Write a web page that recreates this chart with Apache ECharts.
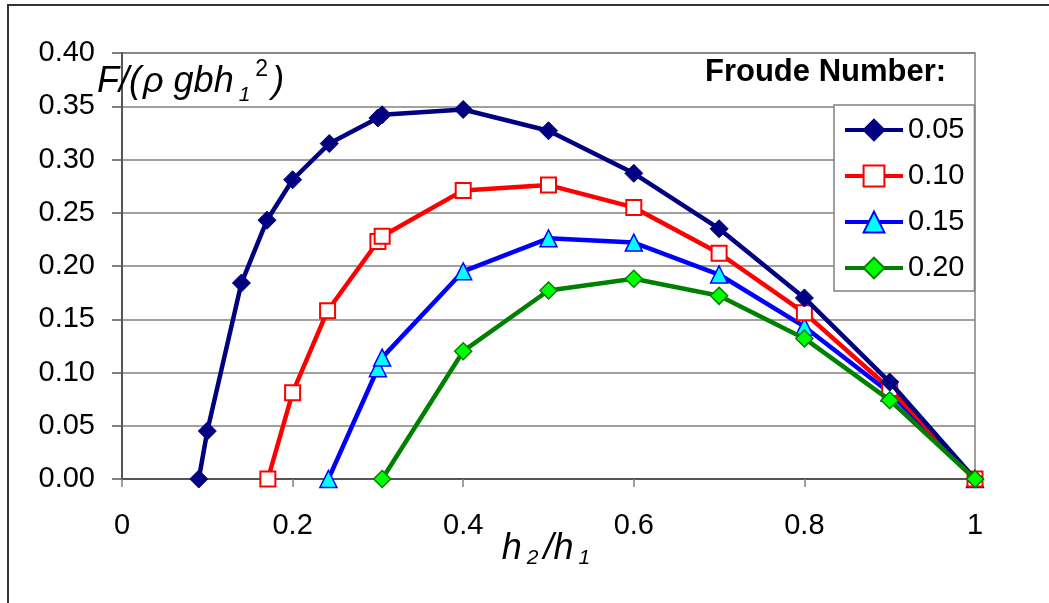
<!DOCTYPE html>
<html>
<head>
<meta charset="utf-8">
<script src="https://cdn.jsdelivr.net/npm/echarts@6/dist/echarts.min.js"></script>
<style>
  html, body { margin: 0; padding: 0; background: #fff; }
  #chart { width: 1049px; height: 603px; }
</style>
</head>
<body>
<div id="chart"></div>
<script>
  // Froude number series: h2/h1 vs F/(rho g b h1^2)
  var froudeNames = ['0.05', '0.10', '0.15', '0.20'];

  var f005X = [0.09, 0.1, 0.14, 0.17, 0.2, 0.243, 0.3, 0.305, 0.4, 0.5, 0.6, 0.7, 0.8, 0.9, 1.0];
  var f005Y = [0, 0.045, 0.184, 0.243, 0.281, 0.315, 0.339, 0.342, 0.347, 0.327, 0.287, 0.235, 0.170, 0.091, 0];

  var f010X = [0.171, 0.2, 0.241, 0.3, 0.305, 0.4, 0.5, 0.6, 0.7, 0.8, 0.9, 1.0];
  var f010Y = [0, 0.081, 0.158, 0.223, 0.228, 0.271, 0.276, 0.255, 0.212, 0.156, 0.085, 0];

  var f015X = [0.242, 0.3, 0.305, 0.4, 0.5, 0.6, 0.7, 0.8, 0.9, 1.0];
  var f015Y = [0, 0.104, 0.114, 0.195, 0.226, 0.222, 0.192, 0.143, 0.081, 0];

  var f020X = [0.305, 0.4, 0.5, 0.6, 0.7, 0.8, 0.9, 1.0];
  var f020Y = [0, 0.120, 0.177, 0.188, 0.172, 0.132, 0.074, 0];

  function pairs(xs, ys) {
    return xs.map(function (x, i) { return [x, ys[i]]; });
  }

  var FONT = '"Liberation Sans", Arial, sans-serif';

  var chart = echarts.init(document.getElementById('chart'));

  var option = {
    animation: false,
    backgroundColor: '#fff',
    textStyle: { fontFamily: FONT },
    grid: {
      left: 122, top: 53, width: 853, height: 426,
      show: true, borderColor: '#808080', borderWidth: 1.5, backgroundColor: 'transparent'
    },
    legend: {
      orient: 'vertical',
      left: 834, top: 105,
      padding: [10, 10, 8, 9],
      itemGap: 16,
      itemWidth: 58,
      itemHeight: 26,
      itemTextGap: 7,
      borderColor: '#808080',
      borderWidth: 1.5,
      backgroundColor: '#fff',
      lineStyle: { width: 4 },
      textStyle: { fontFamily: FONT, fontSize: 29, color: '#000', lineHeight: 30 },
      data: froudeNames
    },
    xAxis: {
      type: 'value',
      min: 0, max: 1, interval: 0.2,
      axisLine: { onZero: false, lineStyle: { color: '#555', width: 2 } },
      axisTick: { show: true, length: 8, lineStyle: { color: '#808080', width: 1.5 } },
      splitLine: { show: false },
      axisLabel: {
        margin: 32, color: '#000', fontSize: 29, fontFamily: FONT,
        formatter: function (v) { return String(+v.toFixed(1)); }
      },
      name: '{i|h}{s|2}{i|/h}{s|1}',
      nameLocation: 'middle',
      nameGap: 50,
      nameMoveOverlap: false,
      nameTextStyle: {
        rich: {
          i: { fontFamily: FONT, fontStyle: 'italic', fontSize: 36, color: '#000', lineHeight: 40 },
          s: { fontFamily: FONT, fontStyle: 'italic', fontSize: 21, color: '#000', lineHeight: 21,
               verticalAlign: 'bottom', padding: [0, 5, 0, 5] }
        }
      }
    },
    yAxis: {
      type: 'value',
      min: 0, max: 0.4, interval: 0.05,
      axisLine: { show: true, lineStyle: { color: '#555', width: 2 } },
      axisTick: { show: true, length: 10, lineStyle: { color: '#555', width: 1.5 } },
      splitLine: { show: true, lineStyle: { color: '#808080', width: 1.5 } },
      axisLabel: {
        margin: 27, color: '#000', fontSize: 29, fontFamily: FONT,
        formatter: function (v) { return v.toFixed(2); }
      }
    },
    graphic: [
      {
        // outer frame
        type: 'polyline',
        shape: { points: [[8, 603], [8, 5], [1049, 5]] },
        style: { stroke: '#333', lineWidth: 2, fill: null },
        silent: true
      },
      {
        type: 'text',
        left: 97, top: 58,
        z: 10,
        style: {
          text: '{i|F/(}{g|ρ}{i|gbh}{s|1}{p|2}{i|)}',
          rich: {
            i: { fontFamily: FONT, fontStyle: 'italic', fontSize: 36, fill: '#000', lineHeight: 48 },
            g: { fontFamily: FONT, fontStyle: 'italic', fontSize: 36, fill: '#000', lineHeight: 48, padding: [0, 10, 0, 2] },
            s: { fontFamily: FONT, fontStyle: 'italic', fontSize: 21, fill: '#000', lineHeight: 21,
                 verticalAlign: 'bottom', padding: [0, 3, 0, 5] },
            p: { fontFamily: FONT, fontSize: 23, fill: '#000', lineHeight: 23,
                 verticalAlign: 'top', padding: [0, 4, 0, 2] }
          }
        }
      },
      {
        type: 'text',
        left: 705, top: 57,
        z: 10,
        style: {
          text: 'Froude Number:',
          fontFamily: FONT, fontWeight: 'bold', fontSize: 31, fill: '#000'
        }
      }
    ],
    series: [
      {
        name: froudeNames[0],
        type: 'line',
        data: pairs(f005X, f005Y),
        symbol: 'diamond', symbolSize: 18,
        lineStyle: { color: '#000080', width: 4.5 },
        itemStyle: { color: '#000080', borderColor: '#000080', borderWidth: 1 },
        z: 5
      },
      {
        name: froudeNames[1],
        type: 'line',
        data: pairs(f010X, f010Y),
        symbol: 'rect', symbolSize: 15,
        lineStyle: { color: '#ff0000', width: 4.5 },
        itemStyle: { color: '#ffffff', borderColor: '#ff0000', borderWidth: 2 },
        z: 4
      },
      {
        name: froudeNames[2],
        type: 'line',
        data: pairs(f015X, f015Y),
        symbol: 'triangle', symbolSize: 17,
        lineStyle: { color: '#0000ff', width: 4.5 },
        itemStyle: { color: '#00ffff', borderColor: '#0000ff', borderWidth: 1.5 },
        z: 3
      },
      {
        name: froudeNames[3],
        type: 'line',
        data: pairs(f020X, f020Y),
        symbol: 'diamond', symbolSize: 17,
        lineStyle: { color: '#008000', width: 4.5 },
        itemStyle: { color: '#00ff00', borderColor: '#008000', borderWidth: 1.5 },
        z: 6
      }
    ]
  };

  chart.setOption(option);
</script>
</body>
</html>
